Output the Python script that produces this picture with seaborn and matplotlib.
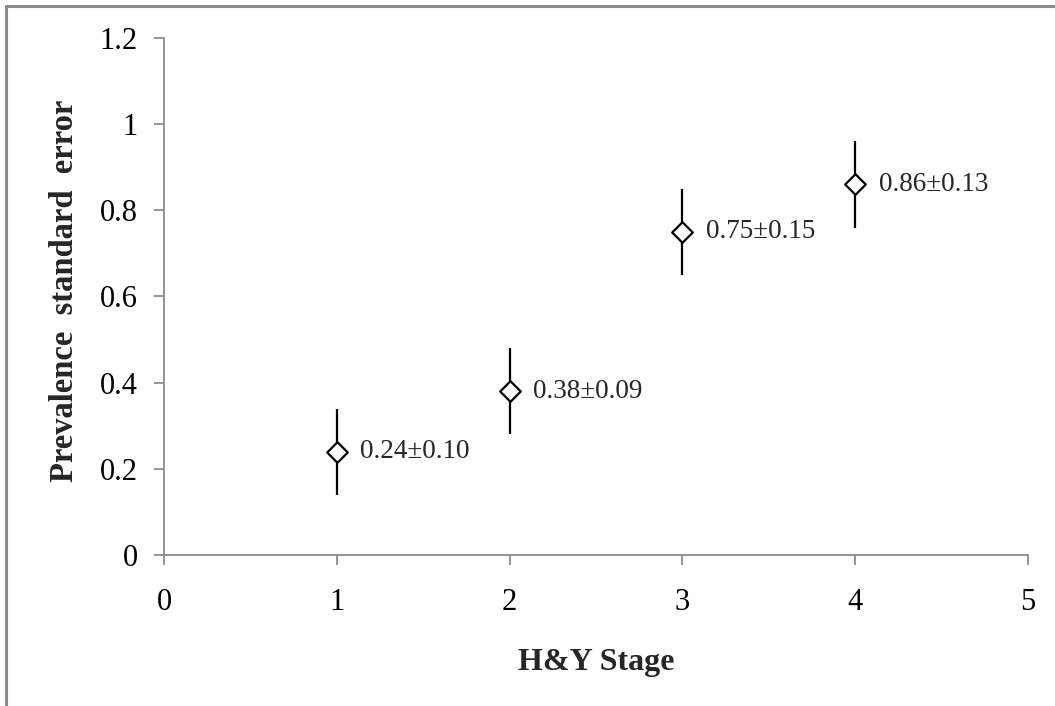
"""
Prevalence by H&Y stage, with error bars and value labels
"""

import matplotlib.pyplot as plt
import seaborn as sns
import pandas as pd
from matplotlib.lines import Line2D

# Data
stages = [1, 2, 3, 4]
prevalence = [0.24, 0.38, 0.75, 0.86]
err = [0.10, 0.10, 0.10, 0.10]
labels = ["0.24\u00b10.10", "0.38\u00b10.09", "0.75\u00b10.15", "0.86\u00b10.13"]
x_ticks = [0, 1, 2, 3, 4, 5]
y_ticks = [0, 0.2, 0.4, 0.6, 0.8, 1.0, 1.2]
y_tick_labels = ["0", "0.2", "0.4", "0.6", "0.8", "1", "1.2"]

df = pd.DataFrame({"stage": stages, "prev": prevalence})

sns.set_theme(style="white")
plt.rcParams['font.family'] = ['Liberation Serif', 'DejaVu Serif']

fig = plt.figure(figsize=(10.55, 7.06), dpi=100)
ax = fig.add_axes([0.1555, 0.2139, 0.8189, 0.7323])

# Error bars first, then hollow diamonds on top
ax.errorbar(stages, prevalence, yerr=err, fmt='none', ecolor='black',
            elinewidth=1.6, capsize=0, zorder=2)
sns.scatterplot(data=df, x="stage", y="prev", marker='D', s=110,
                facecolor='white', edgecolor='black', linewidth=1.6,
                ax=ax, zorder=3, legend=False)

for x, y, t in zip(stages, prevalence, labels):
    ax.annotate(t, (x, y), xytext=(17, 0), textcoords='offset points',
                va='center', ha='left', fontsize=19.5)

ax.set_xlim(0, 5)
ax.set_ylim(0, 1.2)
ax.set_xticks(x_ticks)
ax.set_yticks(y_ticks)
ax.set_yticklabels(y_tick_labels)

for side in ['top', 'right']:
    ax.spines[side].set_visible(False)
for side in ['left', 'bottom']:
    ax.spines[side].set_color('#8c8c8c')
    ax.spines[side].set_linewidth(1.3)

ax.tick_params(axis='both', which='major', direction='out', length=7,
               width=1.3, color='#8c8c8c', labelsize=22, labelcolor='black',
               bottom=True, left=True)
ax.tick_params(axis='y', pad=12)
ax.tick_params(axis='x', pad=17)
ax.set_xlabel("H&Y Stage", fontsize=23, fontweight='bold', labelpad=22)
ax.set_ylabel("Prevalence  standard  error", fontsize=23.5,
              fontweight='bold', labelpad=14)
ax.yaxis.label.set_y(0.511)
ax.set_facecolor('white')

# Outer chart border (only top and left visible in the crop)
fig.add_artist(Line2D([6 / 1055, 6 / 1055], [0, 1 - 6 / 706],
                      transform=fig.transFigure, color='#8c8c8c', lw=2.2))
fig.add_artist(Line2D([6 / 1055, 1], [1 - 6 / 706, 1 - 6 / 706],
                      transform=fig.transFigure, color='#8c8c8c', lw=2.2))

fig.savefig('out.png', dpi=100, facecolor='white')
